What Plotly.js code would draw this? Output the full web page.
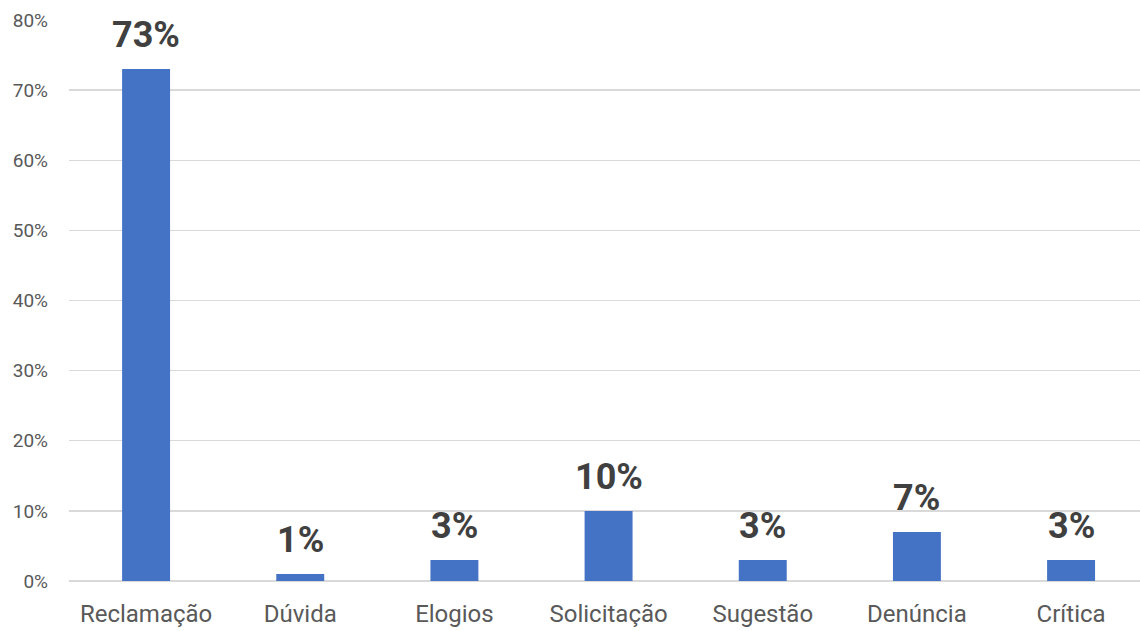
<!DOCTYPE html>
<html><head><meta charset="utf-8">
<script src="https://cdn.plot.ly/plotly-3.0.1.min.js"></script>
<style>html,body{margin:0;padding:0;background:#fff;overflow:hidden}</style>
</head><body>
<div id="chart" style="width:1140px;height:631px"></div>
<script>
const categories = ["Reclamação","Dúvida","Elogios","Solicitação","Sugestão","Denúncia","Crítica"];
const values = [73, 1, 3, 10, 3, 7, 3];
const yTicks = [0,10,20,30,40,50,60,70,80];

const trace = {
  type: 'bar', x: categories, y: values,
  marker: {color: '#4472C4'},
  hoverinfo: 'none'
};
const annotations = categories.map((c,i)=>({
  x: c, y: values[i], xref:'x', yref:'y',
  text: values[i] + '%', showarrow:false,
  yanchor:'bottom', yshift: 11,
  font:{family:'Roboto', size:36, color:'#404040', weight:'bold'}
}));
const layout = {
  width:1140, height:631,
  margin:{l:69, r:0, t:20, b:50},
  paper_bgcolor:'#fff', plot_bgcolor:'#fff',
  bargap: 0.689,
  showlegend:false,
  xaxis:{range:[-0.5, 6.447], showgrid:false, zeroline:false, showline:false, ticks:'',
    tickfont:{family:'Roboto', size:24, color:'#595959'}, ticklabelstandoff:16, fixedrange:true},
  yaxis:{range:[0,80], tickvals:yTicks, ticktext:yTicks.map(v=>v+'%'),
    showgrid:true, gridcolor:'#d9d9d9', gridwidth:1.3, zeroline:true, zerolinecolor:'#d9d9d9', zerolinewidth:1.3,
    showline:false, ticks:'', tickfont:{family:'Roboto', size:19, color:'#595959'}, ticklabelstandoff:20, fixedrange:true},
  annotations: annotations
};
Plotly.newPlot('chart',[trace],layout,{displayModeBar:false,staticPlot:true});
</script>
</body></html>
